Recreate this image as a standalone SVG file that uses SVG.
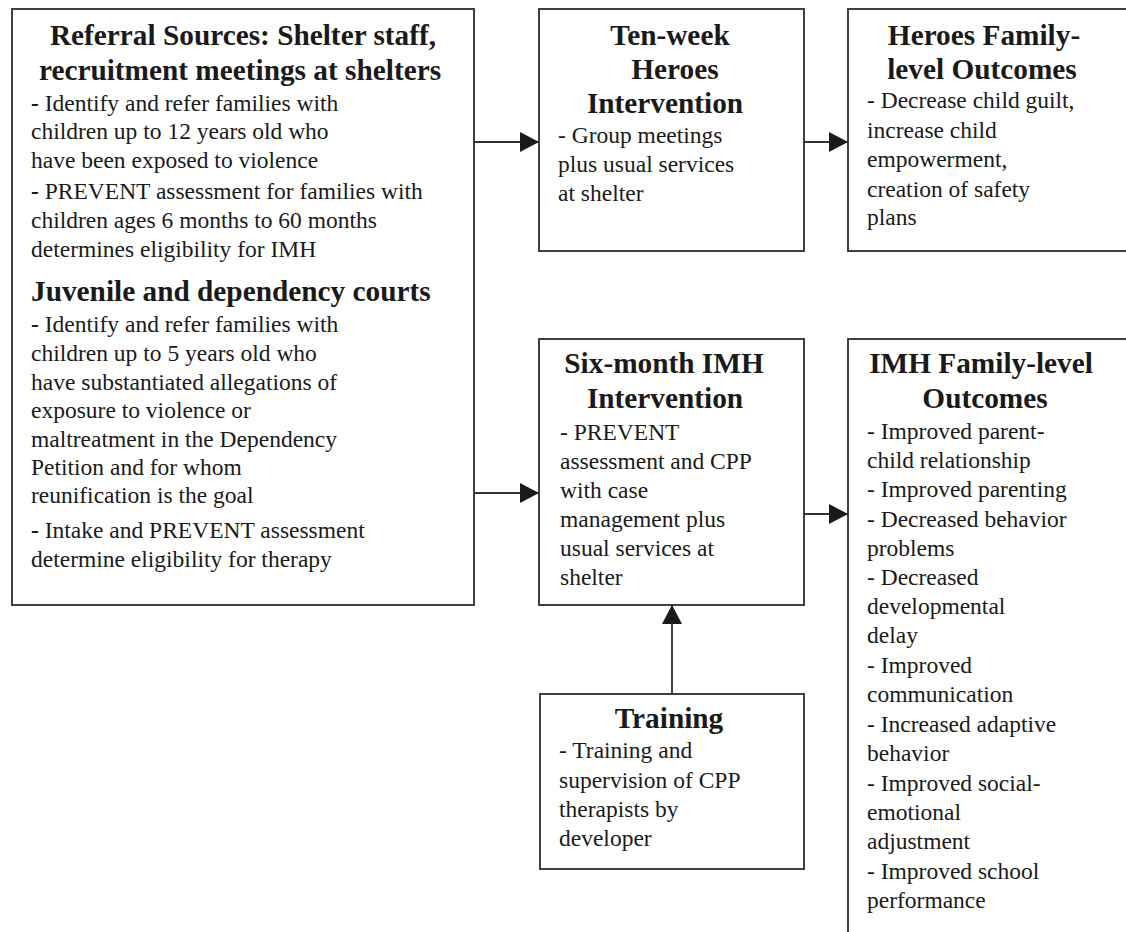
<svg xmlns="http://www.w3.org/2000/svg" width="1126" height="932" viewBox="0 0 1126 932">
<defs>
<style>
.box{fill:#fff;stroke:#404040;stroke-width:2}
.t{font-family:"Liberation Serif","Times New Roman",serif;font-size:29.3px;font-weight:bold;fill:#1a1a1a;text-anchor:middle}
.tl{font-family:"Liberation Serif","Times New Roman",serif;font-size:29.3px;font-weight:bold;fill:#1a1a1a}
.b{font-family:"Liberation Serif","Times New Roman",serif;font-size:23.5px;fill:#1a1a1a}
.bd{font-weight:bold}
.c{stroke:#333;stroke-width:1.8;fill:none}
</style>
<marker id="ah" markerUnits="userSpaceOnUse" markerWidth="20" markerHeight="20" refX="19" refY="10" orient="auto">
<path d="M0,0 L19,10 L0,20 z" fill="#1a1a1a"/>
</marker>
</defs>
<rect width="1126" height="932" fill="#fff"/>

<g id="referral">
<rect class="box" x="12" y="9" width="462" height="596"/>
<text class="t" x="243" y="45">Referral Sources: Shelter staff,</text>
<text class="t" x="240" y="80">recruitment meetings at shelters</text>
<text class="b" x="31" y="111"><tspan class="bd">-</tspan> Identify and refer families with</text>
<text class="b" x="31" y="139">children up to 12 years old who</text>
<text class="b" x="31" y="168">have been exposed to violence</text>
<text class="b" x="31" y="199"><tspan class="bd">-</tspan> PREVENT assessment for families with</text>
<text class="b" x="31" y="228">children ages 6 months to 60 months</text>
<text class="b" x="31" y="257">determines eligibility for IMH</text>
<text class="tl" x="31" y="301">Juvenile and dependency courts</text>
<text class="b" x="31" y="332"><tspan class="bd">-</tspan> Identify and refer families with</text>
<text class="b" x="31" y="361">children up to 5 years old who</text>
<text class="b" x="31" y="390">have substantiated allegations of</text>
<text class="b" x="31" y="418">exposure to violence or</text>
<text class="b" x="31" y="447">maltreatment in the Dependency</text>
<text class="b" x="31" y="475">Petition and for whom</text>
<text class="b" x="31" y="503">reunification is the goal</text>
<text class="b" x="31" y="538"><tspan class="bd">-</tspan> Intake and PREVENT assessment</text>
<text class="b" x="31" y="567">determine eligibility for therapy</text>
</g>

<g id="heroes-intervention">
<rect class="box" x="539" y="9" width="265" height="242"/>
<text class="t" x="670" y="45">Ten-week</text>
<text class="t" x="675" y="79">Heroes</text>
<text class="t" x="665" y="113">Intervention</text>
<text class="b" x="558" y="143">- Group meetings</text>
<text class="b" x="558" y="172">plus usual services</text>
<text class="b" x="558" y="201">at shelter</text>
</g>

<g id="heroes-outcomes">
<rect class="box" x="848" y="9" width="300" height="242"/>
<text class="t" x="984" y="45">Heroes Family-</text>
<text class="t" x="982" y="79">level Outcomes</text>
<text class="b" x="867" y="108">- Decrease child guilt,</text>
<text class="b" x="867" y="138">increase child</text>
<text class="b" x="867" y="167">empowerment,</text>
<text class="b" x="867" y="197">creation of safety</text>
<text class="b" x="867" y="225">plans</text>
</g>

<g id="imh-intervention">
<rect class="box" x="539" y="339" width="265" height="266"/>
<text class="t" x="664" y="373">Six-month IMH</text>
<text class="t" x="665" y="408">Intervention</text>
<text class="b" x="560" y="440">- PREVENT</text>
<text class="b" x="560" y="469">assessment and CPP</text>
<text class="b" x="560" y="498">with case</text>
<text class="b" x="560" y="527">management plus</text>
<text class="b" x="560" y="556">usual services at</text>
<text class="b" x="560" y="585">shelter</text>
</g>

<g id="imh-outcomes">
<rect class="box" x="848" y="339" width="300" height="620"/>
<text class="t" x="981" y="373">IMH Family-level</text>
<text class="t" x="985" y="408">Outcomes</text>
<text class="b" x="867" y="439">- Improved parent-</text>
<text class="b" x="867" y="468">child relationship</text>
<text class="b" x="867" y="497">- Improved parenting</text>
<text class="b" x="867" y="527">- Decreased behavior</text>
<text class="b" x="867" y="556">problems</text>
<text class="b" x="867" y="585">- Decreased</text>
<text class="b" x="867" y="614">developmental</text>
<text class="b" x="867" y="643">delay</text>
<text class="b" x="867" y="673">- Improved</text>
<text class="b" x="867" y="702">communication</text>
<text class="b" x="867" y="732">- Increased adaptive</text>
<text class="b" x="867" y="761">behavior</text>
<text class="b" x="867" y="791">- Improved social-</text>
<text class="b" x="867" y="820">emotional</text>
<text class="b" x="867" y="849">adjustment</text>
<text class="b" x="867" y="879">- Improved school</text>
<text class="b" x="867" y="908">performance</text>
</g>

<g id="training">
<rect class="box" x="540" y="694" width="264" height="175"/>
<text class="t" x="669" y="728">Training</text>
<text class="b" x="559" y="758">- Training and</text>
<text class="b" x="559" y="788">supervision of CPP</text>
<text class="b" x="559" y="817">therapists by</text>
<text class="b" x="559" y="846">developer</text>
</g>

<g id="connectors">
<line class="c" x1="474" y1="142" x2="539" y2="142" marker-end="url(#ah)"/>
<line class="c" x1="804" y1="142" x2="848" y2="142" marker-end="url(#ah)"/>
<line class="c" x1="474" y1="493" x2="539" y2="493" marker-end="url(#ah)"/>
<line class="c" x1="804" y1="514" x2="848" y2="514" marker-end="url(#ah)"/>
<line class="c" x1="672" y1="694" x2="672" y2="605" marker-end="url(#ah)"/>
</g>
</svg>
